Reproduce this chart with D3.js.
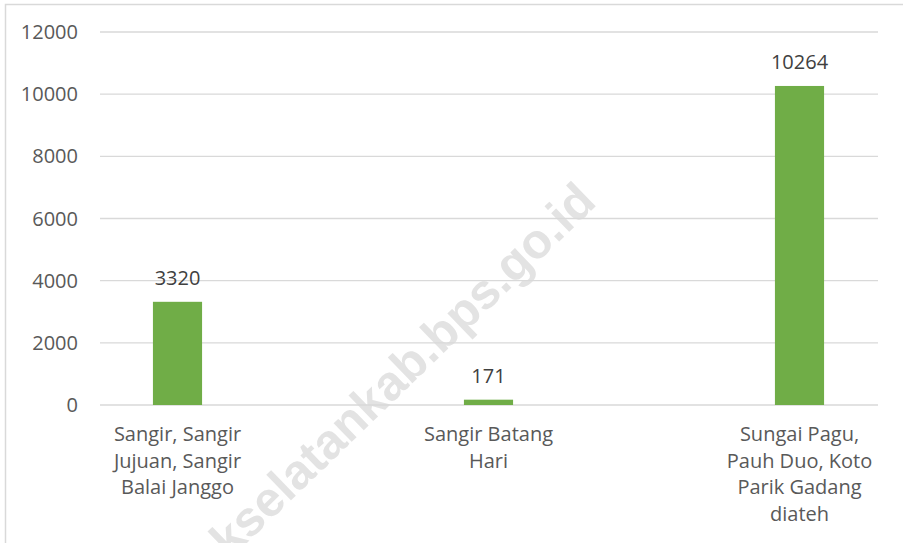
<!DOCTYPE html>
<html>
<head>
  <meta charset="UTF-8">
  <style>
    body {
      margin: 0;
      background: #fff;
      font-family: 'Open Sans', sans-serif;
    }
    .tick-label { fill: #595959; font-size: 20px; }
    .cat-label { fill: #595959; font-size: 20px; }
    .value-label { fill: #404040; font-size: 20px; }
    .watermark {
      fill: #e3e3e3;
      font-family: 'Liberation Sans', Arial, sans-serif;
      font-weight: bold;
      font-size: 49px;
    }
  </style>
  <script src="https://d3js.org/d3.v7.min.js"></script>
</head>
<body>
<div id="chart"></div>
<script>
// data
const categories = ['Sangir, Sangir Jujuan, Sangir Balai Janggo', 'Sangir Batang Hari', 'Sungai Pagu, Pauh Duo, Koto Parik Gadang diateh'];
const categoryLines = [
  ['Sangir, Sangir', 'Jujuan, Sangir', 'Balai Janggo'],
  ['Sangir Batang', 'Hari'],
  ['Sungai Pagu,', 'Pauh Duo, Koto', 'Parik Gadang', 'diateh']
];
const values = [3320, 171, 10264];
const yTicks = [0, 2000, 4000, 6000, 8000, 10000, 12000];

const width = 903, height = 543;

const svg = d3.select('#chart').append('svg')
  .attr('width', width)
  .attr('height', height);

// outer frame (only left and top edges are in view)
svg.append('rect')
  .attr('x', 5.5).attr('y', 4.5)
  .attr('width', 1000).attr('height', 600)
  .attr('fill', '#fff')
  .attr('stroke', '#d9d9d9')
  .attr('stroke-width', 1.5);

const y = d3.scaleLinear().domain([0, 12000]).range([405, 32]);

const x = d3.scaleBand()
  .domain(categories)
  .range([22, 955])
  .paddingInner(0.842)
  .paddingOuter(0.421);

// watermark sits under the gridlines
svg.append('text')
  .attr('class', 'watermark')
  .attr('text-anchor', 'end')
  .attr('transform', 'translate(598,204) rotate(-44)')
  .text('solokselatankab.bps.go.id');

// gridlines
svg.append('g')
  .selectAll('line')
  .data(yTicks)
  .join('line')
  .attr('x1', 100).attr('x2', 878)
  .attr('y1', d => y(d)).attr('y2', d => y(d))
  .attr('stroke', '#d9d9d9')
  .attr('stroke-width', 1.3);

// y tick labels
svg.append('g')
  .selectAll('text')
  .data(yTicks)
  .join('text')
  .attr('class', 'tick-label')
  .attr('x', 78)
  .attr('y', d => y(d))
  .attr('dy', '0.35em')
  .attr('text-anchor', 'end')
  .text(d => d);

// bars
svg.append('g')
  .selectAll('rect')
  .data(values)
  .join('rect')
  .attr('x', (d, i) => x(categories[i]))
  .attr('y', d => y(d))
  .attr('width', x.bandwidth())
  .attr('height', d => y(0) - y(d))
  .attr('fill', '#70ad47');

// value labels
svg.append('g')
  .selectAll('text')
  .data(values)
  .join('text')
  .attr('class', 'value-label')
  .attr('x', (d, i) => x(categories[i]) + x.bandwidth() / 2)
  .attr('y', d => y(d) - 17)
  .attr('text-anchor', 'middle')
  .text(d => d);

// category labels
const cat = svg.append('g')
  .selectAll('text')
  .data(categories)
  .join('text')
  .attr('class', 'cat-label')
  .attr('text-anchor', 'middle')
  .attr('x', d => x(d) + x.bandwidth() / 2)
  .attr('y', 441);

cat.selectAll('tspan')
  .data((d, i) => categoryLines[i])
  .join('tspan')
  .attr('x', function() { return this.parentNode.getAttribute('x'); })
  .attr('y', (d, j) => 441 + j * 26.5)
  .text(d => d);
</script>
</body>
</html>
